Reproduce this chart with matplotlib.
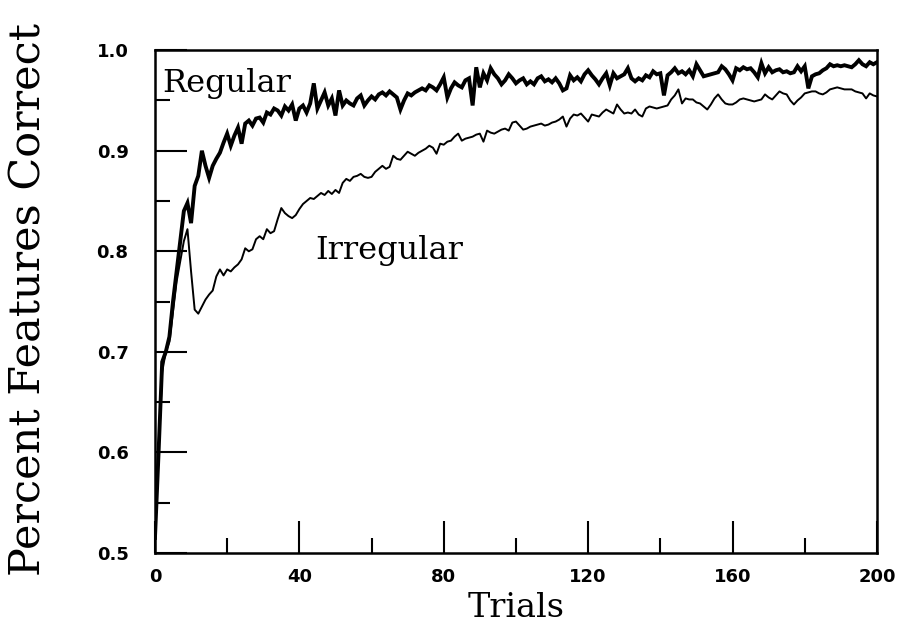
import numpy as np
import matplotlib
matplotlib.use("Agg")
import matplotlib.pyplot as plt
from matplotlib.ticker import MultipleLocator, FormatStrFormatter

# trial number 0..200, one value per trial
trials = np.arange(0, 201)

regular = [
    0.515, 0.600, 0.690, 0.700, 0.715, 0.750, 0.780, 0.810, 0.840, 0.848,
    0.828, 0.865, 0.875, 0.900, 0.885, 0.873, 0.885, 0.892, 0.898, 0.908,
    0.917, 0.905, 0.915, 0.923, 0.907, 0.927, 0.930, 0.925, 0.932, 0.933,
    0.928, 0.938, 0.936, 0.942, 0.940, 0.935, 0.944, 0.940, 0.946, 0.930,
    0.942, 0.945, 0.938, 0.947, 0.967, 0.942, 0.950, 0.958, 0.945, 0.952,
    0.935, 0.960, 0.945, 0.950, 0.947, 0.945, 0.952, 0.955, 0.945, 0.950,
    0.954, 0.951, 0.956, 0.958, 0.955, 0.959, 0.956, 0.953, 0.941, 0.950,
    0.957, 0.955, 0.958, 0.960, 0.962, 0.960, 0.965, 0.963, 0.960, 0.966,
    0.973, 0.953, 0.962, 0.968, 0.965, 0.963, 0.970, 0.972, 0.945, 0.983,
    0.963, 0.977, 0.970, 0.982, 0.976, 0.972, 0.966, 0.970, 0.976, 0.972,
    0.967, 0.970, 0.972, 0.966, 0.969, 0.966, 0.972, 0.974, 0.969, 0.971,
    0.968, 0.972, 0.967, 0.960, 0.962, 0.975, 0.970, 0.973, 0.969, 0.976,
    0.980, 0.975, 0.971, 0.966, 0.972, 0.977, 0.965, 0.977, 0.972, 0.974,
    0.976, 0.982, 0.972, 0.969, 0.972, 0.970, 0.975, 0.973, 0.979, 0.976,
    0.977, 0.955, 0.975, 0.978, 0.982, 0.977, 0.979, 0.976, 0.980, 0.974,
    0.986, 0.980, 0.974, 0.975, 0.976, 0.977, 0.978, 0.984, 0.981, 0.976,
    0.970, 0.982, 0.980, 0.983, 0.981, 0.982, 0.978, 0.973, 0.987, 0.977,
    0.983, 0.978, 0.980, 0.981, 0.978, 0.979, 0.977, 0.978, 0.984, 0.979,
    0.984, 0.962, 0.974, 0.976, 0.977, 0.980, 0.982, 0.986, 0.984, 0.985,
    0.984, 0.985, 0.984, 0.983, 0.986, 0.990, 0.986, 0.984, 0.988, 0.986,
    0.988,
]

irregular = [
    0.515, 0.600, 0.680, 0.700, 0.710, 0.740, 0.770, 0.790, 0.810, 0.822,
    0.780, 0.742, 0.738, 0.745, 0.752, 0.757, 0.761, 0.775, 0.782, 0.776,
    0.782, 0.780, 0.784, 0.787, 0.792, 0.803, 0.800, 0.802, 0.812, 0.815,
    0.812, 0.822, 0.818, 0.820, 0.832, 0.843, 0.838, 0.835, 0.833, 0.836,
    0.842, 0.847, 0.850, 0.853, 0.852, 0.855, 0.858, 0.856, 0.860, 0.857,
    0.861, 0.858, 0.868, 0.872, 0.870, 0.874, 0.875, 0.877, 0.874, 0.873,
    0.874, 0.879, 0.882, 0.885, 0.882, 0.884, 0.895, 0.892, 0.891, 0.895,
    0.899, 0.897, 0.895, 0.898, 0.900, 0.902, 0.905, 0.903, 0.897, 0.907,
    0.906, 0.909, 0.910, 0.914, 0.917, 0.910, 0.912, 0.913, 0.914, 0.916,
    0.917, 0.909, 0.920, 0.918, 0.917, 0.919, 0.921, 0.922, 0.920, 0.928,
    0.929, 0.925, 0.921, 0.922, 0.924, 0.925, 0.926, 0.927, 0.925, 0.926,
    0.928, 0.929, 0.931, 0.934, 0.924, 0.932, 0.936, 0.935, 0.937, 0.933,
    0.929, 0.936, 0.935, 0.934, 0.938, 0.941, 0.939, 0.937, 0.946, 0.941,
    0.937, 0.938, 0.937, 0.941, 0.936, 0.934, 0.942, 0.944, 0.943, 0.942,
    0.943, 0.944, 0.945, 0.951, 0.955, 0.961, 0.947, 0.952, 0.951, 0.951,
    0.948, 0.947, 0.944, 0.941, 0.946, 0.952, 0.956, 0.951, 0.947, 0.946,
    0.946, 0.948, 0.951, 0.952, 0.951, 0.950, 0.949, 0.950, 0.951, 0.956,
    0.953, 0.951, 0.955, 0.959, 0.957, 0.956, 0.950, 0.946, 0.950, 0.953,
    0.957, 0.958, 0.959, 0.959, 0.957, 0.956, 0.958, 0.961, 0.962, 0.963,
    0.962, 0.961, 0.961, 0.961, 0.959, 0.958, 0.957, 0.952, 0.957, 0.955,
    0.954,
]

serif = "DejaVu Serif"

fig = plt.figure(figsize=(9.02, 6.27), dpi=100)
ax = fig.add_axes([0.1718, 0.118, 0.8004, 0.802])

ax.plot(trials, regular, color="black", lw=2.8, solid_joinstyle="miter")
ax.plot(trials, irregular, color="black", lw=1.4)

ax.set_xlim(0, 200)
ax.set_ylim(0.5, 1.0)

# old-style inward ticks, long majors and short minors
ax.xaxis.set_major_locator(MultipleLocator(40))
ax.xaxis.set_minor_locator(MultipleLocator(20))
ax.yaxis.set_major_locator(MultipleLocator(0.1))
ax.yaxis.set_minor_locator(MultipleLocator(0.05))
ax.yaxis.set_major_formatter(FormatStrFormatter("%.1f"))

ax.tick_params(which="major", direction="in", length=23, width=1.5,
               labelsize=13)
ax.tick_params(which="minor", direction="in", length=11, width=1.5)
ax.tick_params(axis="y", which="major", pad=19)
ax.tick_params(axis="x", which="major", pad=11)
for lab in ax.get_xticklabels() + ax.get_yticklabels():
    lab.set_fontweight("bold")

for side in ax.spines.values():
    side.set_linewidth(1.8)

ax.set_xlabel("Trials", family=serif, fontsize=24, labelpad=4)
ax.set_ylabel("Percent Features Correct", family=serif, fontsize=31)
ax.yaxis.set_label_coords(-0.146, 0.505)

ax.text(2, 0.958, "Regular", family=serif, fontsize=23, va="baseline")
ax.text(44.3, 0.792, "Irregular", family=serif, fontsize=23, va="baseline")

fig.savefig("out.png", dpi=100)
